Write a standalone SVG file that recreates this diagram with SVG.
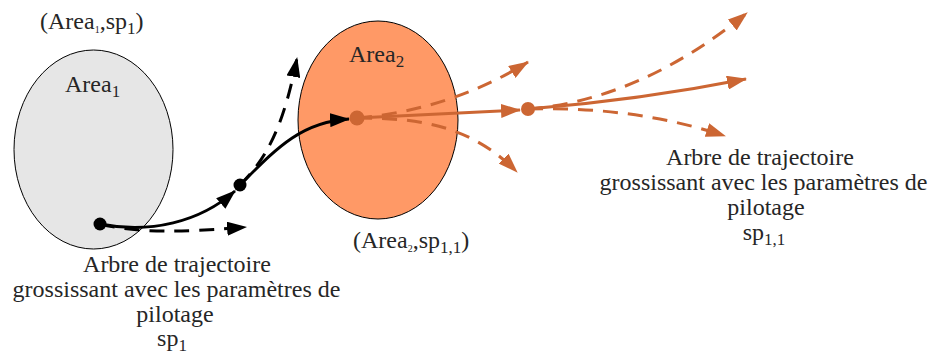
<svg xmlns="http://www.w3.org/2000/svg" width="935" height="362" viewBox="0 0 935 362">
<style>
text{font-family:"Liberation Serif","Times New Roman",serif;font-size:24px;fill:#262626}
.blk{fill:none;stroke:#000;stroke-width:3}
.org{fill:none;stroke:#CC6633;stroke-width:3}
.dash{stroke-dasharray:15 10}
</style>
<defs>
<marker id="ab" viewBox="0 0 20 14" refX="19" refY="7" markerWidth="20" markerHeight="14" markerUnits="userSpaceOnUse" orient="auto"><path d="M0,0 L20,7 L0,14 Z" fill="#000"/></marker>
<marker id="ao" viewBox="0 0 20 14" refX="19" refY="7" markerWidth="20" markerHeight="14" markerUnits="userSpaceOnUse" orient="auto"><path d="M0,0 L20,7 L0,14 Z" fill="#CC6633"/></marker>
</defs>
<g id="area1">
<ellipse cx="93.5" cy="149.5" rx="79.5" ry="99.5" fill="#E6E6E6" stroke="#000" stroke-width="1"/>
<text x="65" y="92">Area<tspan font-size="17" dy="5">1</tspan></text>
</g>
<g id="area2">
<ellipse cx="378" cy="120" rx="80" ry="99" fill="#FF9966" stroke="#000" stroke-width="1"/>
<text x="349" y="62">Area<tspan font-size="17" dy="5">2</tspan></text>
</g>
<g id="label-area1-sp1"><text x="40" y="29">(Area<tspan font-size="10" dy="4">1</tspan><tspan dy="-4">,sp</tspan><tspan font-size="17" dy="5">1</tspan><tspan dy="-5">)</tspan></text></g>
<g id="label-area2-sp11"><text x="353" y="248">(Area<tspan font-size="10" dy="4">2</tspan><tspan dy="-4">,sp</tspan><tspan font-size="17" dy="5">1,1</tspan><tspan dy="-5">)</tspan></text></g>
<g id="caption-left">
<text x="177" y="272" text-anchor="middle">Arbre de trajectoire</text>
<text x="176.5" y="297" text-anchor="middle">grossissant avec les paramètres de</text>
<text x="175" y="322" text-anchor="middle">pilotage</text>
<text x="172" y="346" text-anchor="middle">sp<tspan font-size="17" dy="5">1</tspan></text>
</g>
<g id="caption-right">
<text x="760" y="165" text-anchor="middle">Arbre de trajectoire</text>
<text x="763.5" y="190" text-anchor="middle">grossissant avec les paramètres de</text>
<text x="766" y="215" text-anchor="middle">pilotage</text>
<text x="764" y="240" text-anchor="middle">sp<tspan font-size="17" dy="5">1,1</tspan></text>
</g>
<g id="connectors">
<path class="blk dash" d="M100,224 C140,234 190,232 246,227" marker-end="url(#ab)"/>
<path class="blk dash" d="M240,185 C265,160 283,130 297,58" marker-end="url(#ab)"/>
<path class="blk" d="M100,224 C150,234 200,222 235,191" marker-end="url(#ab)"/>
<path class="blk" d="M240,185 C275,150 300,122 349,119" marker-end="url(#ab)"/>
<path class="org dash" d="M357,118 Q450,110 528,62" marker-end="url(#ao)"/>
<path class="org dash" d="M357,118 C420,118 470,125 517,172" marker-end="url(#ao)"/>
<path class="org" d="M357,118 L520,110" marker-end="url(#ao)"/>
<path class="org dash" d="M528,109 Q640,100 747,13" marker-end="url(#ao)"/>
<path class="org dash" d="M528,109 Q635,106 725,136" marker-end="url(#ao)"/>
<path class="org" d="M528,109 Q640,100 746,79" marker-end="url(#ao)"/>
</g>
<g id="points">
<circle cx="100" cy="224" r="6.5" fill="#000"/>
<circle cx="240" cy="185" r="6.5" fill="#000"/>
<circle cx="357" cy="118" r="7.5" fill="#CC6633"/>
<circle cx="528" cy="109" r="7" fill="#CC6633"/>
</g>
</svg>
